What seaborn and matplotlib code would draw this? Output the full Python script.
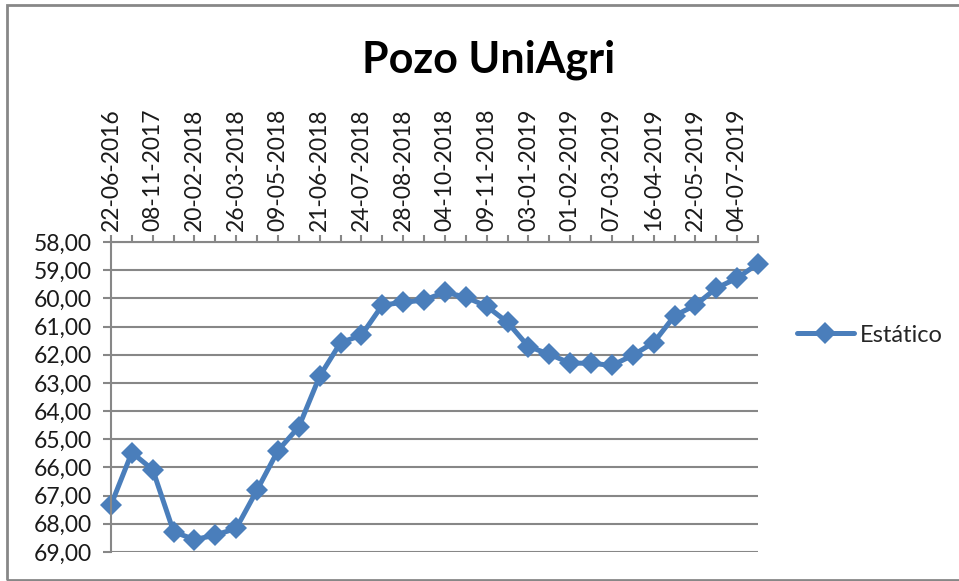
import pandas as pd
import matplotlib.pyplot as plt
import seaborn as sns

# datos del pozo (fechas intermedias sin etiqueta en el original)
fechas = ["22-06-2016", "15-03-2017", "08-11-2017", "16-01-2018", "20-02-2018", "07-03-2018",
          "26-03-2018", "17-04-2018", "09-05-2018", "30-05-2018", "21-06-2018", "05-07-2018",
          "24-07-2018", "08-08-2018", "28-08-2018", "14-09-2018", "04-10-2018", "22-10-2018",
          "09-11-2018", "04-12-2018", "03-01-2019", "17-01-2019", "01-02-2019", "20-02-2019",
          "07-03-2019", "27-03-2019", "16-04-2019", "06-05-2019", "22-05-2019", "14-06-2019",
          "04-07-2019", "24-07-2019"]
estatico = [67.33, 65.47, 66.08, 68.28, 68.56, 68.40, 68.16, 66.80, 65.40, 64.56, 62.76, 61.57,
            61.31, 60.24, 60.14, 60.06, 59.78, 59.96, 60.28, 60.85, 61.71, 61.98, 62.30, 62.30,
            62.38, 62.02, 61.57, 60.62, 60.24, 59.64, 59.28, 58.77]
yticks = list(range(58, 70))

df = pd.DataFrame({"Fecha": fechas, "Nivel": estatico})

sns.set_theme(style="white")
plt.rcParams["font.family"] = ["Lato", "DejaVu Sans"]

azul = "#4A7EBB"
gris = "#878787"

fig = plt.figure(figsize=(9.59, 5.81), dpi=100)
ax = fig.add_axes([111/959, 1 - 552/581, (758 - 111)/959, (552 - 242)/581])

sns.lineplot(data=df, x="Fecha", y="Nivel", sort=False, ax=ax, color=azul,
             linewidth=3.6, marker="D", markersize=11, markeredgewidth=0,
             label="Estático")
for ln in ax.lines:
    ln.set_clip_on(False)

ax.set_ylim(69, 58)
ax.set_xlim(0, len(fechas) - 1)
ax.set_yticks(yticks)
ax.set_yticklabels([f"{v:.2f}".replace(".", ",") for v in yticks], fontsize=16.5, color="#1a1a1a")
ax.yaxis.grid(True, color=gris, linewidth=1.5)
ax.set_axisbelow(True)

ax.xaxis.tick_top()
ax.set_xticks(range(len(fechas)))
ax.set_xticklabels([f if i % 2 == 0 else "" for i, f in enumerate(fechas)],
                   rotation=90, fontsize=16.5, color="#1a1a1a")
ax.tick_params(axis="x", which="major", top=True, bottom=False, direction="out",
               length=5, width=1.5, color=gris, pad=3)
ax.tick_params(axis="y", left=True, direction="out", length=6, width=1.5, color=gris, pad=8)
ax.set_xlabel("")
ax.set_ylabel("")

for s in ["right", "bottom"]:
    ax.spines[s].set_visible(False)
for s in ["left", "top"]:
    ax.spines[s].set_color(gris)
    ax.spines[s].set_linewidth(1.5)

ax.legend(loc="center left", bbox_to_anchor=(797/959, 1 - 335/581), bbox_transform=fig.transFigure,
          frameon=False, fontsize=17, handlelength=2.4, handletextpad=0.25,
          borderpad=0, borderaxespad=0)

fig.text(489/959, 1 - 73/581, "Pozo UniAgri", ha="center", va="baseline",
         fontsize=31, fontweight="bold", color="black")

# marco del gráfico
fig.add_artist(plt.Rectangle((7/959, 1 - 580/581), 1.0, (580 - 5)/581, fill=False,
                             edgecolor=gris, linewidth=2, transform=fig.transFigure))

fig.savefig("out.png", dpi=100)
